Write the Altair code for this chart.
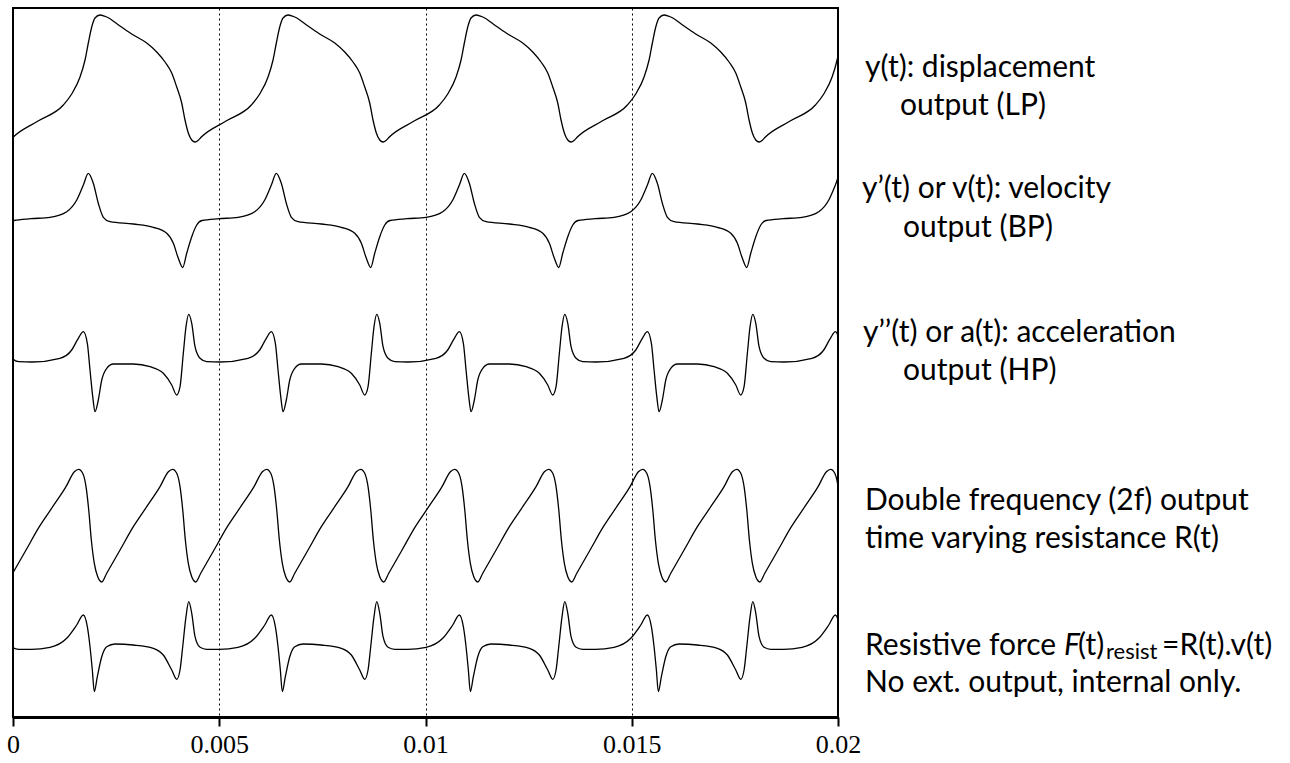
import altair as alt
import pandas as pd

# ---- time base (ms) ----
PERIOD_MS = 4.558          # one oscillation cycle
CYCLE_START_MS = -0.145    # a displacement trough just before t=0
HALF_PERIOD_MS = 2.279     # the R(t) curve runs at twice the frequency
DF_START_MS = -0.128

# ---- one cycle of each trace: time offset in the cycle (ms) and level (arbitrary units, 0 = bottom, 709 = top) ----
disp_t = [0, 0.073, 0.153, 0.752, 1.365, 1.568, 1.770, 1.891, 1.971, 2.053, 2.133, 2.255, 2.417, 2.739,
          3.062, 3.387, 3.629, 3.830, 3.993, 4.114, 4.235, 4.315, 4.395, 4.478]
disp_v = [575, 576.5, 580, 596, 612, 623, 640, 657, 674, 690, 699, 702, 700, 691,
          682, 674, 665, 655, 644, 630, 614, 597, 584, 577]

vel_t = [0.041, 0.170, 0.582, 1.042, 1.447, 1.690, 1.850, 1.971, 2.092, 2.213, 2.335, 2.497,
         3.062, 3.547, 3.872, 4.032, 4.153, 4.259, 4.356, 4.478]
vel_v = [492, 496.5, 498.3, 499.7, 505.3, 517, 532, 543.7, 533.7, 513.7, 499.7, 495.3,
         493, 489.7, 483.7, 473.7, 458.7, 449.5, 463.7, 480.3]

acc_t = [0, 0.121, 0.284, 0.606, 1.285, 1.568, 1.728, 1.850, 1.947, 2.012, 2.078, 2.133, 2.213,
         2.296, 2.417, 2.577, 3.062, 3.467, 3.789, 3.993, 4.114, 4.194, 4.274, 4.339, 4.405, 4.478]
acc_v = [370.3, 358.7, 355.3, 355, 358.7, 367, 378.7, 385.3, 373.7, 347, 320.3, 305.3, 317,
         337, 348.7, 353, 353, 350.3, 343.7, 332, 322, 330.3, 363.7, 390.3, 402.7, 393.7]

df_t = [0, 0.121, 0.444, 0.766, 1.091, 1.413, 1.615, 1.721, 1.818, 1.898, 1.964, 2.027, 2.099, 2.182, 2.230]
df_v = [135, 143.7, 167, 190.3, 210.3, 230.3, 245.3, 247.7, 243.7, 230.3, 207, 177, 153.7, 140.3, 136.5]

force_t = [0, 0.121, 0.284, 0.589, 1.042, 1.447, 1.690, 1.850, 1.947, 2.012, 2.068, 2.116, 2.189,
           2.296, 2.417, 2.618, 3.062, 3.547, 3.789, 3.993, 4.114, 4.194, 4.259, 4.339, 4.405, 4.478]
force_v = [80.3, 69.7, 67.7, 67.7, 69.7, 78.7, 92, 102, 90.3, 70.3, 47, 25.3, 40.3,
           60.3, 70.3, 73, 72, 68.7, 62, 47, 37.7, 47, 70.3, 100.3, 115.3, 103.7]

x_ticks = [0, 0.005, 0.01, 0.015, 0.02]

label_lines = ["y(t): displacement", "output (LP)",
               "y\u2019(t) or v(t): velocity", "output (BP)",
               "y\u2019\u2019(t) or a(t): acceleration", "output (HP)",
               "Double frequency (2f) output", "time varying resistance R(t)",
               "Resistive force", "No ext. output, internal only."]
force_parts = ["F", "(t)", "resist", "=R(t).v(t)"]


def tile(name, cyc_t, cyc_v, start, period):
    rows = []
    for k in range(-1, 10):
        for t, v in zip(cyc_t, cyc_v):
            tt = start + k * period + t
            if -0.4 <= tt <= 20.4:
                rows.append({"trace": name, "t": tt / 1000.0, "v": v})
    return rows


rows = []
rows += tile("disp", disp_t, disp_v, CYCLE_START_MS, PERIOD_MS)
rows += tile("vel", vel_t, vel_v, CYCLE_START_MS, PERIOD_MS)
rows += tile("acc", acc_t, acc_v, CYCLE_START_MS, PERIOD_MS)
rows += tile("df", df_t, df_v, DF_START_MS, HALF_PERIOD_MS)
rows += tile("force", force_t, force_v, CYCLE_START_MS, PERIOD_MS)
df = pd.DataFrame(rows)
df = df.sort_values(["trace", "t"])

lines = alt.Chart(df).mark_line(
    color="black", strokeWidth=1.3, interpolate="monotone", clip=True
).encode(
    x=alt.X("t:Q", scale=alt.Scale(domain=[0, 0.02], nice=False, zero=False),
            axis=alt.Axis(values=x_ticks, format="~g", title=None,
                          grid=True, gridDash=[2, 3], gridColor="black", gridWidth=1, gridOpacity=1,
                          domainColor="black", domainWidth=3,
                          tickColor="black", tickWidth=2, tickSize=9,
                          labelFont="Liberation Serif", labelFontSize=26, labelColor="black",
                          labelPadding=5, labelFlush=False, labelOverlap=False)),
    y=alt.Y("v:Q", scale=alt.Scale(domain=[0, 709], nice=False, zero=False), axis=None),
    detail="trace:N",
)

one = alt.Data(values=[{"a": 0}])


def txt(s, x, y, size=30, style="normal"):
    return alt.Chart(one).mark_text(
        align="left", baseline="alphabetic", font="Lato", fontSize=size,
        fontStyle=style, color="black"
    ).encode(x=alt.value(x), y=alt.value(y), text=alt.value(s))


# label positions inside the chart (plot origin at top-left of the frame)
pos = [(852, 69), (887, 107), (849, 190), (890, 229), (850, 334), (890, 372),
       (852, 502), (852, 540), (852, 647), (852, 684)]
layers = [lines]
for s, (x, y) in zip(label_lines, pos):
    layers.append(txt(s, x, y))
layers.append(txt(force_parts[0], 1051, 647, style="italic"))
layers.append(txt(force_parts[1], 1065, 647))
layers.append(txt(force_parts[2], 1093, 651, size=22))
layers.append(txt(force_parts[3], 1149, 647))

chart = alt.layer(*layers).properties(
    width=825, height=709,
    padding={"left": 13, "top": 8, "right": 452, "bottom": 46},
    autosize=alt.AutoSizeParams(type="none"),
).configure_view(stroke="black", strokeWidth=2)

chart.save("out.html", embed_options={"renderer": "svg", "actions": False})
